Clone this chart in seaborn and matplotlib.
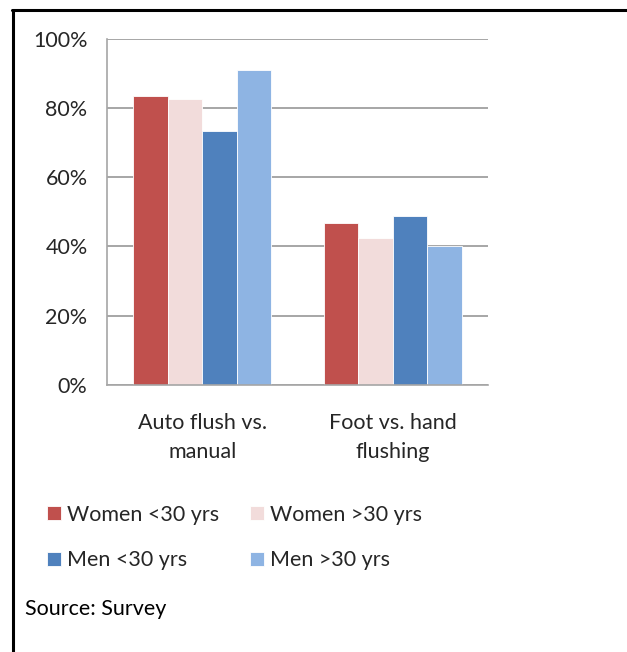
import matplotlib
matplotlib.use("Agg")
import matplotlib.pyplot as plt
import matplotlib.lines as mlines
from matplotlib.ticker import PercentFormatter
import seaborn as sns
import pandas as pd

categories = ["Auto flush vs.\nmanual", "Foot vs. hand\nflushing"]
groups = ["Women <30 yrs", "Women >30 yrs", "Men <30 yrs", "Men >30 yrs"]
women_under_30 = [83.3, 46.7]
women_over_30 = [82.5, 42.4]
men_under_30 = [73.4, 48.7]
men_over_30 = [91.0, 40.1]
palette = ["#C0504D", "#F2DCDB", "#4F81BD", "#8EB4E3"]

series = [women_under_30, women_over_30, men_under_30, men_over_30]
df = pd.DataFrame(
    [(c, g, v) for g, vals in zip(groups, series) for c, v in zip(categories, vals)],
    columns=["question", "group", "share"],
)

sns.set_theme(style="white")
plt.rcParams["font.family"] = ["Lato", "DejaVu Sans"]
text_color = "#262626"
fs = 15.5

fig = plt.figure(figsize=(6.27, 6.52), dpi=100)
ax = fig.add_axes([0.1707, 0.4095, 0.6077, 0.5314])

sns.barplot(
    data=df, x="question", y="share", hue="group", hue_order=groups,
    order=categories, palette=palette, width=0.724, ax=ax,
    edgecolor="white", linewidth=0.6, legend=True, saturation=1,
)

ax.set_ylim(0, 100)
ax.set_xlim(-0.5, 1.5)
ax.set_yticks(range(0, 101, 20))
ax.yaxis.set_major_formatter(PercentFormatter(decimals=0))
ax.grid(axis="y", color="#A6A6A6", linewidth=1.4)
ax.set_axisbelow(True)
ax.set_xlabel("")
ax.set_ylabel("")
for side in ["top", "right"]:
    ax.spines[side].set_visible(False)
for side in ["left", "bottom"]:
    ax.spines[side].set_color("#A6A6A6")
    ax.spines[side].set_linewidth(1.2)
ax.tick_params(axis="y", labelsize=fs, colors=text_color, pad=14, length=0)
ax.tick_params(axis="x", labelsize=fs, colors=text_color, pad=20, length=0)
for lbl in ax.get_xticklabels():
    lbl.set_linespacing(1.55)

# legend laid out row by row: women on the first row, men on the second
handles, labels = ax.get_legend_handles_labels()
ax.get_legend().remove()
order = [0, 2, 1, 3]
fig.legend(
    [handles[i] for i in order], [labels[i] for i in order],
    ncol=2, loc="upper left",
    bbox_to_anchor=(0.075, 0.226), frameon=False,
    fontsize=fs, labelcolor=text_color, borderpad=0,
    handlelength=0.65, handleheight=0.65, handletextpad=0.3,
    columnspacing=1.4, labelspacing=1.2, borderaxespad=0,
)

fig.text(0.04, 0.066, "Source: Survey", fontsize=fs, color="black",
         ha="left", va="center")

# outer frame
fig.add_artist(mlines.Line2D([0.0195, 1.0], [0.9843, 0.9843],
                             color="black", linewidth=2.2,
                             transform=fig.transFigure))
fig.add_artist(mlines.Line2D([0.0203, 0.0203], [0.0, 0.985],
                             color="black", linewidth=2.2,
                             transform=fig.transFigure))

fig.savefig("out.png", dpi=100, facecolor="white")
